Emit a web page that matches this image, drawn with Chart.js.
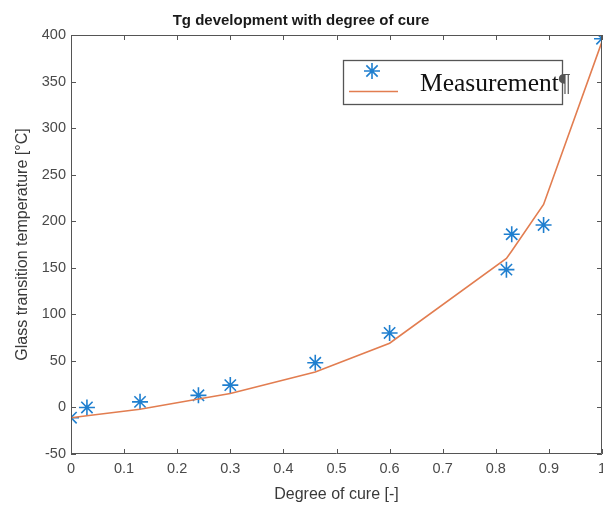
<!DOCTYPE html>
<html>
<head>
<meta charset="utf-8">
<script src="https://cdn.jsdelivr.net/npm/chart.js@4"></script>
<style>
  html, body { margin: 0; padding: 0; background: #fff; }
  #wrap { width: 603px; height: 508px; }
</style>
</head>
<body>
<div id="wrap"><canvas id="c" width="603" height="508"></canvas></div>
<script>
// Degree of cure and measured / modelled glass transition temperature
const cure = [0, 0.03, 0.13, 0.24, 0.30, 0.46, 0.60, 0.82, 0.83, 0.89, 1.0];
const tgMeasured = [-11, 0, 6, 13, 24, 48, 80, 148, 186, 196, 396];
const tgModel = [-11, -9, -2, 9, 15, 38, 69, 160, 168, 218, 393];
const xTicks = [0, 0.1, 0.2, 0.3, 0.4, 0.5, 0.6, 0.7, 0.8, 0.9, 1];
const yTicks = [-50, 0, 50, 100, 150, 200, 250, 300, 350, 400];
const legendLabels = ['Measurement\u00B6', ''];

const SANS = "'Liberation Sans', Arial, Helvetica, sans-serif";
const SERIF = "'Liberation Serif', 'Times New Roman', serif";
const AXIS_COL = '#555555';
const TEXT_COL = '#4a4a4a';
const BLUE = '#1f7fcf';
const ORANGE = '#e27d50';

const measuredPts = cure.map((x, i) => ({ x, y: tgMeasured[i] }));
const modelPts = cure.map((x, i) => ({ x, y: tgModel[i] }));

// Box around the axes with inward tick marks on all four sides
const frameTicks = {
  id: 'frameTicks',
  afterDraw(chart) {
    const { ctx, chartArea: a, scales: { x, y } } = chart;
    const len = 5;
    ctx.save();
    ctx.strokeStyle = AXIS_COL;
    ctx.lineWidth = 1;
    ctx.beginPath();
    ctx.rect(a.left + 0.5, a.top + 0.5, a.right - a.left - 1, a.bottom - a.top - 1);
    xTicks.forEach(v => {
      const px = Math.round(x.getPixelForValue(v)) + 0.5;
      ctx.moveTo(px, a.bottom); ctx.lineTo(px, a.bottom - len);
      ctx.moveTo(px, a.top); ctx.lineTo(px, a.top + len);
    });
    yTicks.forEach(v => {
      const py = Math.round(y.getPixelForValue(v)) + 0.5;
      ctx.moveTo(a.left, py); ctx.lineTo(a.left + len, py);
      ctx.moveTo(a.right, py); ctx.lineTo(a.right - len, py);
    });
    ctx.stroke();
    ctx.restore();
  }
};

// Boxed legend: marker row with the label, then a line sample row
const boxLegend = {
  id: 'boxLegend',
  afterDraw(chart) {
    const { ctx } = chart;
    const bx = 343, by = 60, bw = 219, bh = 44;
    ctx.save();
    ctx.fillStyle = '#ffffff';
    ctx.fillRect(bx, by, bw, bh);
    ctx.strokeStyle = '#555555';
    ctx.lineWidth = 1.3;
    ctx.strokeRect(bx + 0.5, by + 0.5, bw, bh);

    // star marker sample
    const cx = 372, cy = 71, r = 8;
    ctx.strokeStyle = BLUE;
    ctx.lineWidth = 1.6;
    ctx.beginPath();
    for (let k = 0; k < 4; k++) {
      const ang = k * Math.PI / 4;
      ctx.moveTo(cx - r * Math.cos(ang), cy - r * Math.sin(ang));
      ctx.lineTo(cx + r * Math.cos(ang), cy + r * Math.sin(ang));
    }
    ctx.stroke();

    // line sample
    ctx.strokeStyle = ORANGE;
    ctx.lineWidth = 1.6;
    ctx.beginPath();
    ctx.moveTo(349, 91.5);
    ctx.lineTo(398, 91.5);
    ctx.stroke();

    // label text
    const txt = legendLabels[0];
    const main = txt.replace('\u00B6', '');
    ctx.font = '25.5px ' + SERIF;
    ctx.textBaseline = 'alphabetic';
    ctx.textAlign = 'left';
    ctx.fillStyle = '#111111';
    ctx.fillText(main, 420, 91);
    const w = ctx.measureText(main).width;
    if (txt.includes('\u00B6')) {
      ctx.fillStyle = '#555555';
      ctx.fillText('\u00B6', 420 + w, 91);
    }
    ctx.restore();
  }
};

new Chart(document.getElementById('c'), {
  type: 'scatter',
  data: {
    datasets: [
      {
        label: legendLabels[0],
        data: measuredPts,
        pointStyle: 'star',
        pointRadius: 8,
        pointHoverRadius: 8,
        pointBorderWidth: 1.6,
        borderColor: BLUE,
        backgroundColor: BLUE,
        showLine: false,
        order: 1
      },
      {
        label: legendLabels[1],
        data: modelPts,
        showLine: true,
        borderColor: ORANGE,
        borderWidth: 1.6,
        pointRadius: 0,
        tension: 0,
        fill: false,
        order: 0
      }
    ]
  },
  options: {
    responsive: false,
    animation: false,
    layout: { autoPadding: false, padding: { left: 0, right: 1, top: 0, bottom: 0 } },
    plugins: {
      legend: { display: false },
      tooltip: { enabled: false },
      title: {
        display: true,
        text: 'Tg development with degree of cure',
        color: '#1a1a1a',
        font: { family: SANS, size: 15, weight: 'bold' },
        padding: { top: 12, bottom: 5 }
      }
    },
    scales: {
      x: {
        type: 'linear',
        min: 0,
        max: 1,
        afterBuildTicks(s) { s.ticks = xTicks.map(v => ({ value: v })); },
        afterFit(s) { s.height = 54; s.paddingLeft = 0; s.paddingRight = 0; },
        grid: { display: false, drawTicks: false },
        border: { display: false },
        ticks: {
          color: TEXT_COL,
          font: { family: SANS, size: 14.5 },
          padding: 6,
          maxRotation: 0,
          autoSkip: false,
          callback: v => String(+Number(v).toFixed(1))
        },
        title: {
          display: true,
          text: 'Degree of cure [-]',
          color: '#3a3a3a',
          font: { family: SANS, size: 16 },
          padding: { top: 0, bottom: 4 }
        }
      },
      y: {
        type: 'linear',
        min: -50,
        max: 400,
        afterBuildTicks(s) { s.ticks = yTicks.map(v => ({ value: v })); },
        afterFit(s) { s.width = 71; s.paddingTop = 0; s.paddingBottom = 0; },
        grid: { display: false, drawTicks: false },
        border: { display: false },
        ticks: {
          color: TEXT_COL,
          font: { family: SANS, size: 14.5 },
          padding: 5,
          autoSkip: false
        },
        title: {
          display: true,
          text: 'Glass transition temperature [°C]',
          color: '#3a3a3a',
          font: { family: SANS, size: 16 },
          padding: { top: 13, bottom: 0 }
        }
      }
    }
  },
  plugins: [frameTicks, boxLegend]
});
</script>
</body>
</html>
